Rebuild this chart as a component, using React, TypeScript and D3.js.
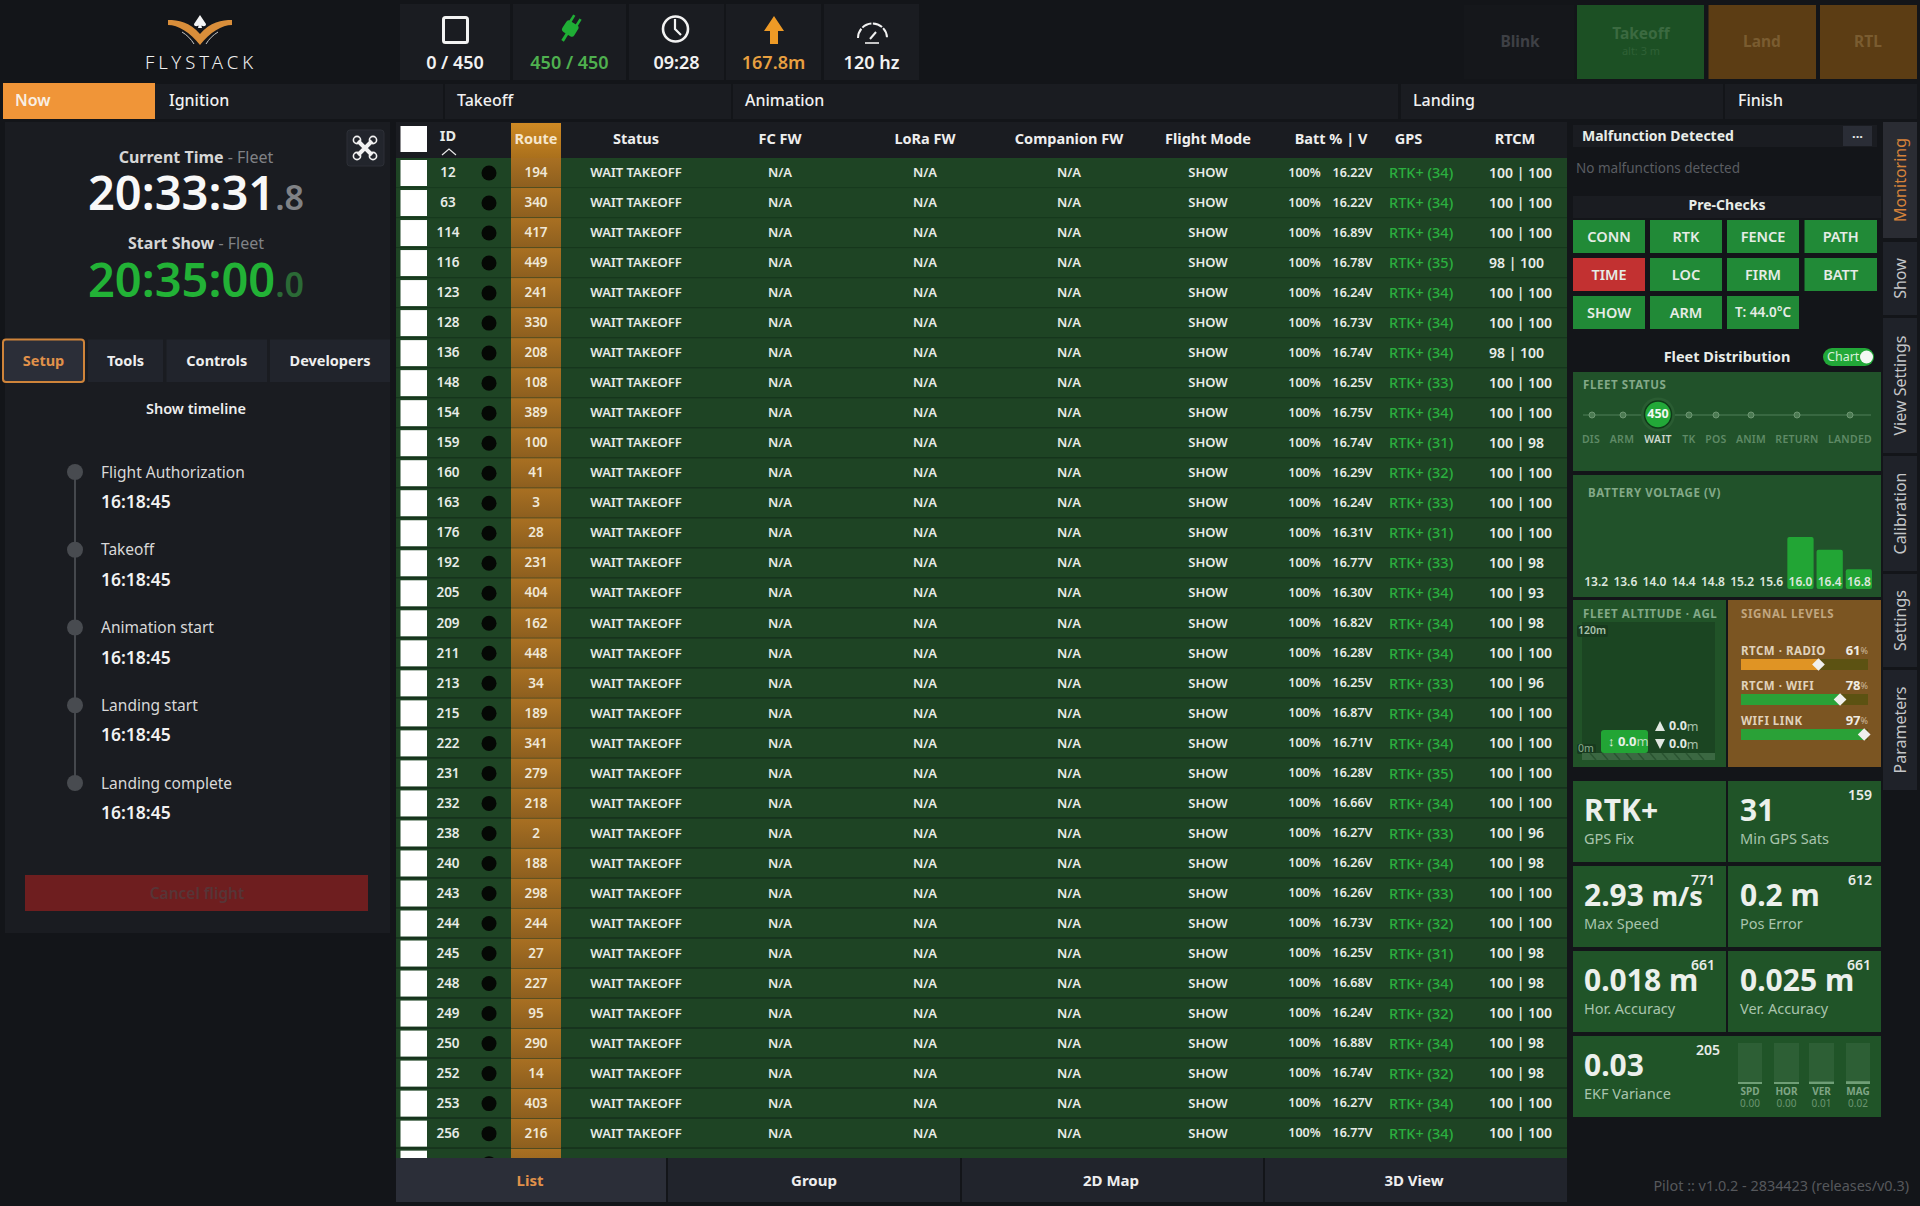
import React from "react";
import * as d3 from "d3";

// table columns
const droneIds = [12, 63, 114, 116, 123, 128, 136, 148, 154, 159, 160, 163, 176, 192, 205, 209, 211, 213, 215, 222, 231, 232, 238, 240, 243, 244, 245, 248, 249, 250, 252, 253, 256];
const routes = [194, 340, 417, 449, 241, 330, 208, 108, 389, 100, 41, 3, 28, 231, 404, 162, 448, 34, 189, 341, 279, 218, 2, 188, 298, 244, 27, 227, 95, 290, 14, 403, 216];
const voltages = [16.22, 16.22, 16.89, 16.78, 16.24, 16.73, 16.74, 16.25, 16.75, 16.74, 16.29, 16.24, 16.31, 16.77, 16.3, 16.82, 16.28, 16.25, 16.87, 16.71, 16.28, 16.66, 16.27, 16.26, 16.26, 16.73, 16.25, 16.68, 16.24, 16.88, 16.74, 16.27, 16.77];
const sats = [34, 34, 34, 35, 34, 34, 34, 33, 34, 31, 32, 33, 31, 33, 34, 34, 34, 33, 34, 34, 35, 34, 33, 34, 33, 32, 31, 34, 32, 34, 32, 34, 34];
const rtcmA = [100, 100, 100, 98, 100, 100, 98, 100, 100, 100, 100, 100, 100, 100, 100, 100, 100, 100, 100, 100, 100, 100, 100, 100, 100, 100, 100, 100, 100, 100, 100, 100, 100];
const rtcmB = [100, 100, 100, 100, 100, 100, 100, 100, 100, 98, 100, 100, 100, 98, 93, 98, 100, 96, 100, 100, 100, 100, 96, 98, 100, 100, 98, 98, 100, 98, 98, 100, 100];

const phases = ["Ignition", "Takeoff", "Animation", "Landing", "Finish"];
const leftTabs = ["Setup", "Tools", "Controls", "Developers"];
const bottomTabs = ["List", "Group", "2D Map", "3D View"];
const timelineLabels = ["Flight Authorization", "Takeoff", "Animation start", "Landing start", "Landing complete"];
const timelineTimes = ["16:18:45", "16:18:45", "16:18:45", "16:18:45", "16:18:45"];
const preChecks = ["CONN", "RTK", "FENCE", "PATH", "TIME", "LOC", "FIRM", "BATT", "SHOW", "ARM", "T: 44.0°C"];
const sideTabs = ["Monitoring", "Show", "View Settings", "Calibration", "Settings", "Parameters"];

const fleetStates = ["DIS", "ARM", "WAIT", "TK", "POS", "ANIM", "RETURN", "LANDED"];
const voltageBins = ["13.2", "13.6", "14.0", "14.4", "14.8", "15.2", "15.6", "16.0", "16.4", "16.8"];
const voltageCounts = [0, 0, 0, 0, 0, 0, 0, 225, 170, 85];
const signalNames = ["RTCM · RADIO", "RTCM · WIFI", "WIFI LINK"];
const signalValues = [61, 78, 97];
const ekfNames = ["SPD", "HOR", "VER", "MAG"];
const ekfValues = [0.0, 0.0, 0.01, 0.02];

const BG = "#131519";
const PANEL = "#1a1c21";
const FONT = "'Noto Sans', sans-serif";
const GREEN = "#22b236";

function T({ x, y, s = 14, w = 400, c = "#e8ece8", a = "start", ls, children, rot }: any) {
  return (
    <text
      x={x}
      y={y - 0.8}
      fontSize={s}
      fontWeight={w}
      fill={c}
      textAnchor={a}
      letterSpacing={ls}
      fontFamily={FONT}
      dominantBaseline="central"
      transform={rot ? `rotate(${rot} ${x} ${y})` : undefined}
    >
      {children}
    </text>
  );
}

function Box({ x0, x1, y0, y1, f = PANEL, r = 0, ...rest }: any) {
  return <rect x={x0} y={y0} width={x1 - x0} height={y1 - y0} fill={f} rx={r} {...rest} />;
}

function Header() {
  const stats = [
    [400, 510, "0 / 450", "#f2f2f2"],
    [513, 626, "450 / 450", "#4fb04f"],
    [629, 724, "09:28", "#f2f2f2"],
    [726, 821, "167.8m", "#e8a040"],
    [824, 919, "120 hz", "#f2f2f2"],
  ] as const;
  return (
    <g>
      {/* logo */}
      <path d="M168 20 C178 20 190 22 200 34 C210 22 222 20 232 20 L232 25 C222 25 210 32 200 45 C190 32 178 25 168 25 Z" fill="#d98e3a" />
      <path d="M200 15 L206 24 C206 27 202 27 200 24 C198 27 194 27 194 24 Z M199 24 L201 24 L202 28 L198 28 Z" fill="#f4f4f4" />
      <path d="M182 32 C187 35 191 39 194 44 M218 32 C213 35 209 39 206 44" stroke="#c8c8c8" strokeWidth={1} fill="none" />
      <T x={201} y={62} s={18.5} w={300} c="#f0f0f0" a="middle" ls={4}>FLYSTACK</T>

      {stats.map(([a, b, txt, col]) => (
        <g key={txt}>
          <Box x0={a} x1={b} y0={4} y1={80} />
          <T x={(a + b) / 2} y={63} s={18} w={600} c={col} a="middle">{txt}</T>
        </g>
      ))}
      <rect x={443.5} y={17.5} width={24} height={25} rx={2} fill="none" stroke="#f2f2f2" strokeWidth={3} />
      <g transform="translate(570 29) rotate(32)" fill="#1fae35">
        <rect x={-7} y={-7} width={14} height={13} rx={3} />
        <rect x={-5} y={-14} width={2.6} height={8} />
        <rect x={2.4} y={-14} width={2.6} height={8} />
        <rect x={-1.5} y={5} width={3} height={9} />
      </g>
      <circle cx={675.5} cy={29} r={12.5} fill="none" stroke="#f2f2f2" strokeWidth={2.6} />
      <path d="M675 19 L675 29 L681 35" fill="none" stroke="#f2f2f2" strokeWidth={2.2} />
      <path d="M774 16 L784 31 L778 31 L778 44 L770 44 L770 31 L764 31 Z" fill="#ee9a26" />
      <path d="M858 38 A14.5 14.5 0 0 1 887 38" fill="none" stroke="#f2f2f2" strokeWidth={2} strokeDasharray="10 1.5" />
      <path d="M870 39 L876 32" stroke="#f2f2f2" strokeWidth={2} />
      <path d="M865 43 L879 43" stroke="#f2f2f2" strokeWidth={1.6} />

      <Box x0={1464} x1={1574} y0={5} y1={79} f="#15171b" />
      <T x={1520} y={42} s={15.5} w={700} c="#3e4045" a="middle">Blink</T>
      <Box x0={1577} x1={1704} y0={5} y1={79} f="#1c5024" />
      <T x={1641} y={34} s={15.5} w={700} c="#3b6a40" a="middle">Takeoff</T>
      <T x={1641} y={51} s={11} c="#2f6136" a="middle">alt: 3 m</T>
      <Box x0={1708.5} x1={1816} y0={5} y1={79} f="#5c3d14" />
      <T x={1762} y={42} s={15.5} w={700} c="#7a5c30" a="middle">Land</T>
      <Box x0={1820} x1={1917} y0={5} y1={79} f="#5c3d14" />
      <T x={1868} y={42} s={15.5} w={700} c="#7a5c30" a="middle">RTL</T>
    </g>
  );
}

function PhaseBar() {
  const cells = [
    [155, 443, 169],
    [445, 731, 457],
    [733, 1398, 745],
    [1401, 1723, 1413],
    [1725, 1917, 1738],
  ];
  return (
    <g>
      {cells.map((c, i) => (
        <g key={phases[i]}>
          <Box x0={c[0]} x1={c[1]} y0={84} y1={119} />
          <T x={c[2]} y={101} s={16} w={500} c="#f0f0f0">{phases[i]}</T>
        </g>
      ))}
      <Box x0={3} x1={155} y0={83} y1={119} f="#f09538" />
      <T x={15} y={101} s={16} w={600} c="#f8efe4">Now</T>
    </g>
  );
}

function LeftPanel() {
  const tabX = [[3, 84], [88, 163], [166.5, 267], [270, 390]];
  const timelineY = d3.scaleLinear().domain([0, 4]).range([472, 783]);
  return (
    <g>
      <Box x0={5} x1={390} y0={122} y1={933} />
      <Box x0={347} x1={384} y0={130} y1={166} f="#22252c" r={3} stroke="#2c2f36" />
      <g stroke="#f2f2f2" fill="none">
        <path d="M358 141 L372 155 M372 141 L358 155" strokeWidth={4} />
        <circle cx={357} cy={140} r={3.6} strokeWidth={1.6} />
        <circle cx={373} cy={140} r={3.6} strokeWidth={1.6} />
        <circle cx={357} cy={156} r={3.6} strokeWidth={1.6} />
        <circle cx={373} cy={156} r={3.6} strokeWidth={1.6} />
      </g>

      <text x={196} y={157} fontFamily={FONT} fontSize={16} textAnchor="middle" dominantBaseline="central" fontWeight={700} fill="#d6d6d6">
        Current Time<tspan fontWeight={400} fill="#808286"> - Fleet</tspan>
      </text>
      <text x={196} y={210} fontFamily={FONT} textAnchor="middle" fontWeight={600} fontSize={47} fill="#f8f8f8">
        20:33:31<tspan fontSize={34} fill="#808286">.8</tspan>
      </text>
      <text x={196} y={243} fontFamily={FONT} fontSize={16} textAnchor="middle" dominantBaseline="central" fontWeight={700} fill="#d6d6d6">
        Start Show<tspan fontWeight={400} fill="#808286"> - Fleet</tspan>
      </text>
      <text x={196} y={297} fontFamily={FONT} textAnchor="middle" fontWeight={600} fontSize={47} fill={GREEN}>
        20:35:00<tspan fontSize={34} fill="#2b6a36">.0</tspan>
      </text>

      {leftTabs.map((t, i) => (
        <g key={t}>
          <Box
            x0={tabX[i][0]}
            x1={tabX[i][1]}
            y0={339.5}
            y1={382}
            f={i === 0 ? "#2b2e38" : "#21242c"}
            r={i === 0 ? 3 : 0}
            stroke={i === 0 ? "#cf843a" : "none"}
            strokeWidth={2}
          />
          <T x={(tabX[i][0] + tabX[i][1]) / 2} y={361} s={14.5} w={700} c={i === 0 ? "#e0914a" : "#eeeeee"} a="middle">{t}</T>
        </g>
      ))}
      <T x={196} y={409} s={14.5} w={600} c="#eeeeee" a="middle">Show timeline</T>

      <line x1={75} x2={75} y1={timelineY(0)} y2={timelineY(4)} stroke="#45484d" strokeWidth={2} />
      {timelineLabels.map((t, i) => (
        <g key={t}>
          <circle cx={75} cy={timelineY(i)} r={8} fill="#484b50" />
          <T x={101} y={timelineY(i) + 0.5} s={15.5} c="#d8d8d8">{t}</T>
          <T x={101} y={timelineY(i) + 30} s={17.5} w={600} c="#f2f2f2">{timelineTimes[i]}</T>
        </g>
      ))}

      <Box x0={25} x1={368} y0={875} y1={911} f="#6e1e1f" />
      <T x={197} y={894} s={15.5} w={600} c="#573537" a="middle">Cancel flight</T>
    </g>
  );
}

function FleetTable() {
  const rowY = d3.scaleLinear().domain([0, 1]).range([158, 188.02]);
  const headers: [string, number][] = [
    ["Status", 636], ["FC FW", 780], ["LoRa FW", 925], ["Companion FW", 1069],
    ["Flight Mode", 1208], ["Batt % | V", 1331], ["GPS", 1408.5], ["RTCM", 1515],
  ];
  const rows = d3.range(droneIds.length + 1);
  return (
    <g>
      <defs>
        <linearGradient id="routeHead" x1="0" x2="0" y1="0" y2="1">
          <stop offset="0" stopColor="#cf8a24" />
          <stop offset="1" stopColor="#aa701c" />
        </linearGradient>
        <linearGradient id="routeCell" x1="0" x2="0" y1="0" y2="1">
          <stop offset="0" stopColor="#a97022" />
          <stop offset="1" stopColor="#8d5f1f" />
        </linearGradient>
        <clipPath id="tableClip">
          <rect x={390} y={158} width={1180} height={1000} />
        </clipPath>
      </defs>
      <Box x0={396} x1={1567} y0={122} y1={158} />
      <Box x0={400.5} x1={427} y0={126} y1={152} f="#ffffff" />
      <T x={448} y={136} s={14.5} w={700} a="middle">ID</T>
      <path d="M442 155 L449 149 L456 155" fill="none" stroke="#e8e8e8" strokeWidth={1.2} />
      <Box x0={511} x1={561} y0={123} y1={158} f="url(#routeHead)" />
      <T x={536} y={139} s={14.5} w={700} c="#f6e6cc" a="middle">Route</T>
      {headers.map(([h, x]) => (
        <T key={h} x={x} y={139} s={14.5} w={700} c="#eeeeee" a="middle">{h}</T>
      ))}

      <g clipPath="url(#tableClip)">
        {rows.map((i) => {
          const y0 = rowY(i);
          const cy = y0 + 15;
          const hasText = i < droneIds.length;
          return (
            <g key={i}>
              <Box x0={396} x1={1567} y0={y0} y1={y0 + 29} f="#1e4424" />
              <Box x0={396} x1={1567} y0={y0 + 29} y1={y0 + 30} f="#173a1e" />
              <Box x0={400.5} x1={427} y0={y0 + 2} y1={y0 + 28} f="#ffffff" />
              <circle cx={489} cy={cy} r={7.5} fill="#050805" />
              <Box x0={511} x1={561} y0={y0} y1={y0 + 29.5} f="url(#routeCell)" />
              {hasText && (
                <g>
                  <T x={448} y={cy} s={13.5} w={600} a="middle">{droneIds[i]}</T>
                  <T x={536} y={cy} s={13.5} w={600} c="#f0e8d8" a="middle">{routes[i]}</T>
                  <T x={636} y={cy} s={13} w={600} a="middle">WAIT TAKEOFF</T>
                  <T x={780} y={cy} s={13} w={600} a="middle">N/A</T>
                  <T x={925} y={cy} s={13} w={600} a="middle">N/A</T>
                  <T x={1069} y={cy} s={13} w={600} a="middle">N/A</T>
                  <T x={1208} y={cy} s={13} w={600} a="middle">SHOW</T>
                  <T x={1304.5} y={cy} s={12.5} w={600} a="middle">100%</T>
                  <T x={1352.5} y={cy} s={12.5} w={600} a="middle">{voltages[i].toFixed(2)}V</T>
                  <T x={1389} y={cy} s={14.5} w={500} c="#2bb03f">{`RTK+ (${sats[i]})`}</T>
                  <T x={1489} y={cy} s={14} w={600}>{`${rtcmA[i]} | ${rtcmB[i]}`}</T>
                </g>
              )}
            </g>
          );
        })}
      </g>

      {[[396, 666], [668, 960], [962, 1263], [1265, 1567]].map((b, i) => (
        <g key={bottomTabs[i]}>
          <Box x0={b[0]} x1={b[1]} y0={1158} y1={1202} f={i === 0 ? "#2b2e38" : "#21242c"} />
          <T x={[530, 814, 1111, 1414][i]} y={1181} s={15} w={700} c={i === 0 ? "#e0914a" : "#eeeeee"} a="middle">{bottomTabs[i]}</T>
        </g>
      ))}
    </g>
  );
}

function PreChecks() {
  const colX = [[1573, 1645], [1650, 1722], [1727, 1799], [1804.5, 1877]];
  const rowTop = [220, 258, 296];
  return (
    <g>
      <Box x0={1573} x1={1877} y0={125} y1={147} />
      <T x={1582} y={136} s={14} w={700}>Malfunction Detected</T>
      <Box x0={1843} x1={1872} y0={126} y1={146} f="#2a2d36" />
      <T x={1857.5} y={134} s={13} w={700} a="middle">...</T>
      <T x={1576} y={169} s={13.5} c="#5a5d62">No malfunctions detected</T>
      <Box x0={1573} x1={1881} y0={196} y1={218} />
      <T x={1727} y={205.5} s={14} w={700} a="middle">Pre-Checks</T>
      {preChecks.map((p, i) => {
        const col = colX[i % 4];
        const top = rowTop[Math.floor(i / 4)];
        return (
          <g key={p}>
            <Box x0={col[0]} x1={col[1]} y0={top} y1={top + 33} f={p === "TIME" ? "#c23131" : "#218a37"} />
            <T x={(col[0] + col[1]) / 2} y={top + 17} s={p.length > 5 ? 13.5 : 14.5} w={600} c="#e6ece6" a="middle">{p}</T>
          </g>
        );
      })}
    </g>
  );
}

function FleetDistribution() {
  const stateX = [1592, 1623, 1658, 1689, 1716, 1751, 1797, 1850];
  const labelX = [1591, 1622, 1658, 1689, 1716, 1751, 1797, 1850];
  const barX = d3.scaleBand().domain(voltageBins).range([1583, 1872]).paddingInner(0.1);
  const barY = d3.scaleLinear().domain([0, 225]).range([589, 537]);
  return (
    <g>
      <T x={1727} y={357} s={14.5} w={700} a="middle">Fleet Distribution</T>
      <rect x={1823} y={348} width={51} height={18} rx={9} fill="#22a838" />
      <T x={1827} y={357.5} s={12.5} c="#d8f0dc">Chart</T>
      <circle cx={1866.5} cy={357} r={6.5} fill="#f4f8f4" />

      <Box x0={1573} x1={1881} y0={372} y1={471} f="#21522a" />
      <T x={1583} y={385} s={11.5} w={700} c="#83a988" ls={0.6}>FLEET STATUS</T>
      <line x1={1583} x2={1871} y1={415} y2={415} stroke="#41704a" strokeWidth={1.5} />
      {fleetStates.map((st, i) => (
        <g key={st}>
          {st === "WAIT" ? (
            <g>
              <circle cx={stateX[i]} cy={414.5} r={17} fill="#2a5c32" />
              <circle cx={stateX[i]} cy={414.5} r={13.5} fill="#22a838" stroke="#0f3a18" strokeWidth={1.5} />
              <T x={stateX[i]} y={414.5} s={12.5} w={700} c="#f2f6f2" a="middle">450</T>
            </g>
          ) : (
            <circle cx={stateX[i]} cy={415} r={3} fill="#4b7a52" stroke="#6d9672" strokeWidth={1} />
          )}
          <T x={labelX[i]} y={440} s={10.5} w={600} c={st === "WAIT" ? "#cdd8ce" : "#5f8a66"} a="middle" ls={0.3}>{st}</T>
        </g>
      ))}

      <Box x0={1573} x1={1881} y0={475} y1={597} f="#21522a" />
      <T x={1588} y={493} s={11.5} w={700} c="#83a988" ls={0.6}>BATTERY VOLTAGE (V)</T>
      {voltageBins.map((b, i) => (
        <g key={b}>
          {voltageCounts[i] > 0 && (
            <rect
              x={barX(b)}
              y={barY(voltageCounts[i])}
              width={barX.bandwidth()}
              height={589 - barY(voltageCounts[i])}
              rx={2}
              fill="#22a535"
            />
          )}
          <T x={barX(b)! + barX.bandwidth() / 2} y={582} s={12} w={600} c="#dde6dd" a="middle">{b}</T>
        </g>
      ))}

      {/* altitude */}
      <Box x0={1573} x1={1726} y0={600} y1={767} f="#215328" />
      <Box x0={1582} x1={1715} y0={622} y1={753} f="#1b4522" />
      <T x={1583} y={614} s={11.5} w={700} c="#83a988" ls={0.6}>FLEET ALTITUDE · AGL</T>
      <Box x0={1577} x1={1608} y0={625} y1={637} f="#173a1e" r={2} />
      <T x={1592} y={631} s={10.5} w={600} c="#a9c2ad" a="middle">120m</T>
      <Box x0={1577} x1={1596} y0={744} y1={754} f="#173a1e" r={2} />
      <T x={1586} y={749} s={10.5} c="#8aa98e" a="middle">0m</T>
      <Box x0={1582} x1={1715} y0={753} y1={760} f="#3b6842" />
      <path d="M1590 753 l6 7 M1602 753 l6 7 M1614 753 l6 7 M1626 753 l6 7 M1638 753 l6 7 M1650 753 l6 7 M1662 753 l6 7 M1674 753 l6 7 M1686 753 l6 7 M1698 753 l6 7" stroke="#2a5431" strokeWidth={1.5} />
      <Box x0={1601} x1={1648} y0={730} y1={753} f="#22a535" r={3} />
      <text x={1608} y={741} fontFamily={FONT} fontSize={13} fontWeight={700} fill="#e8f0e8" dominantBaseline="central">
        ↕ 0.0<tspan fontWeight={400} fill="#b9dcbe">m</tspan>
      </text>
      <path d="M1660 721 L1665 731 L1655 731 Z M1655 739 L1665 739 L1660 749 Z" fill="#e2e8e2" />
      <text x={1669} y={725.5} fontFamily={FONT} fontSize={12.5} fontWeight={700} fill="#e2e8e2" dominantBaseline="central">
        0.0<tspan fontWeight={400} fill="#a9c2ad">m</tspan>
      </text>
      <text x={1669} y={743.5} fontFamily={FONT} fontSize={12.5} fontWeight={700} fill="#e2e8e2" dominantBaseline="central">
        0.0<tspan fontWeight={400} fill="#a9c2ad">m</tspan>
      </text>

      {/* signal levels */}
      <Box x0={1728} x1={1881} y0={600} y1={767} f="#7b5522" />
      <T x={1741} y={614} s={11.5} w={700} c="#c1a67f" ls={0.6}>SIGNAL LEVELS</T>
      <SignalBars />
    </g>
  );
}

function SignalBars() {
  const x = d3.scaleLinear().domain([0, 100]).range([1741, 1868]);
  const barTop = [659, 694, 729];
  return (
    <g>
      {signalNames.map((n, i) => (
        <g key={n}>
          <T x={1741} y={barTop[i] - 8} s={11.5} w={700} c="#e0d2bc" ls={0.5}>{n}</T>
          <text x={1868} y={barTop[i] - 9} fontFamily={FONT} textAnchor="end" dominantBaseline="central" fontSize={13} fontWeight={700} fill="#f0ebe2">
            {signalValues[i]}<tspan fontSize={9} fontWeight={400} fill="#cbb89c">%</tspan>
          </text>
          <Box x0={x(0)} x1={x(100)} y0={barTop[i]} y1={barTop[i] + 11} f="#5c5212" />
          <Box x0={x(0)} x1={x(signalValues[i])} y0={barTop[i]} y1={barTop[i] + 11} f={i === 0 ? "#e09424" : "#2aa137"} />
          <rect
            x={x(signalValues[i]) - 4.5}
            y={barTop[i] + 1}
            width={9}
            height={9}
            fill="#f0f0ee"
            transform={`rotate(45 ${x(signalValues[i])} ${barTop[i] + 5.5})`}
          />
        </g>
      ))}
    </g>
  );
}

function Card({ x0, x1, y0, y1, val, unit, unitSize = 30, label, count, countX }: any) {
  const tx = x0 + (x0 < 1600 ? 11 : 12);
  return (
    <g>
      <Box x0={x0} x1={x1} y0={y0} y1={y1} f="#205428" />
      <text x={tx} y={y0 + 40} fontFamily={FONT} fontSize={30} fontWeight={700} fill="#ecf0ec">
        {val}{unit ? " " : ""}<tspan fontSize={unitSize}>{unit}</tspan>
      </text>
      <T x={tx} y={y0 + 58} s={14.5} c="#a9c4ad">{label}</T>
      {count && <T x={countX} y={y0 + 14.5} s={14} w={600} c="#e8ece8" a="end">{count}</T>}
    </g>
  );
}

function StatCards() {
  const ekfBands = [[1738, 1762], [1774, 1799], [1809, 1834], [1846, 1870]];
  const ekfY = d3.scaleLinear().domain([0, 1]).range([1082, 1043]);
  return (
    <g>
      <Card x0={1573} x1={1726} y0={781} y1={862} val="RTK+" label="GPS Fix" count="" countX={1715} />
      <Card x0={1728} x1={1881} y0={781} y1={862} val="31" label="Min GPS Sats" count="159" countX={1872} />
      <Card x0={1573} x1={1726} y0={866} y1={947} val="2.93" unit="m/s" unitSize={27} label="Max Speed" count="771" countX={1715} />
      <Card x0={1728} x1={1881} y0={866} y1={947} val="0.2" unit="m" label="Pos Error" count="612" countX={1872} />
      <Card x0={1573} x1={1726} y0={951} y1={1032} val="0.018" unit="m" label="Hor. Accuracy" count="661" countX={1715} />
      <Card x0={1728} x1={1881} y0={951} y1={1032} val="0.025" unit="m" label="Ver. Accuracy" count="661" countX={1871} />
      <Card x0={1573} x1={1881} y0={1036} y1={1117} val="0.03" label="EKF Variance" count="205" countX={1720} />
      {ekfNames.map((n, i) => (
        <g key={n}>
          <Box x0={ekfBands[i][0]} x1={ekfBands[i][1]} y0={ekfY(1)} y1={ekfY(0)} f="#2d5f35" />
          <Box x0={ekfBands[i][0]} x1={ekfBands[i][1]} y0={ekfY(ekfValues[i])} y1={ekfY(0) + 2} f="#6f9e76" />
          <T x={(ekfBands[i][0] + ekfBands[i][1]) / 2} y={1092} s={10} w={700} c="#7fa585" a="middle">{n}</T>
          <T x={(ekfBands[i][0] + ekfBands[i][1]) / 2} y={1104} s={10} c="#6b9571" a="middle">{ekfValues[i].toFixed(2)}</T>
        </g>
      ))}
      <T x={1909} y={1186} s={14.4} c="#56585c" a="end">Pilot :: v1.0.2 - 2834423 (releases/v0.3)</T>
    </g>
  );
}

function SideTabs() {
  const spans = [[122, 238], [242, 315], [318, 453], [456, 571], [574, 667], [670, 790]];
  return (
    <g>
      {sideTabs.map((t, i) => (
        <g key={t}>
          <Box x0={1883} x1={1917} y0={spans[i][0]} y1={spans[i][1]} f={i === 0 ? "#2a2c33" : "#1f2229"} />
          <T
            x={1901}
            y={(spans[i][0] + spans[i][1]) / 2}
            s={16}
            c={i === 0 ? "#d5823a" : "#c4c6c8"}
            a="middle"
            rot={-90}
          >
            {t}
          </T>
        </g>
      ))}
    </g>
  );
}

export default function App() {
  return (
    <svg
      width={1920}
      height={1206}
      viewBox="0 0 1920 1206"
      style={{ position: "absolute", left: 0, top: 0, display: "block" }}
    >
      <rect width={1920} height={1206} fill={BG} />
      <Header />
      <PhaseBar />
      <LeftPanel />
      <FleetTable />
      <PreChecks />
      <FleetDistribution />
      <StatCards />
      <SideTabs />
    </svg>
  );
}
